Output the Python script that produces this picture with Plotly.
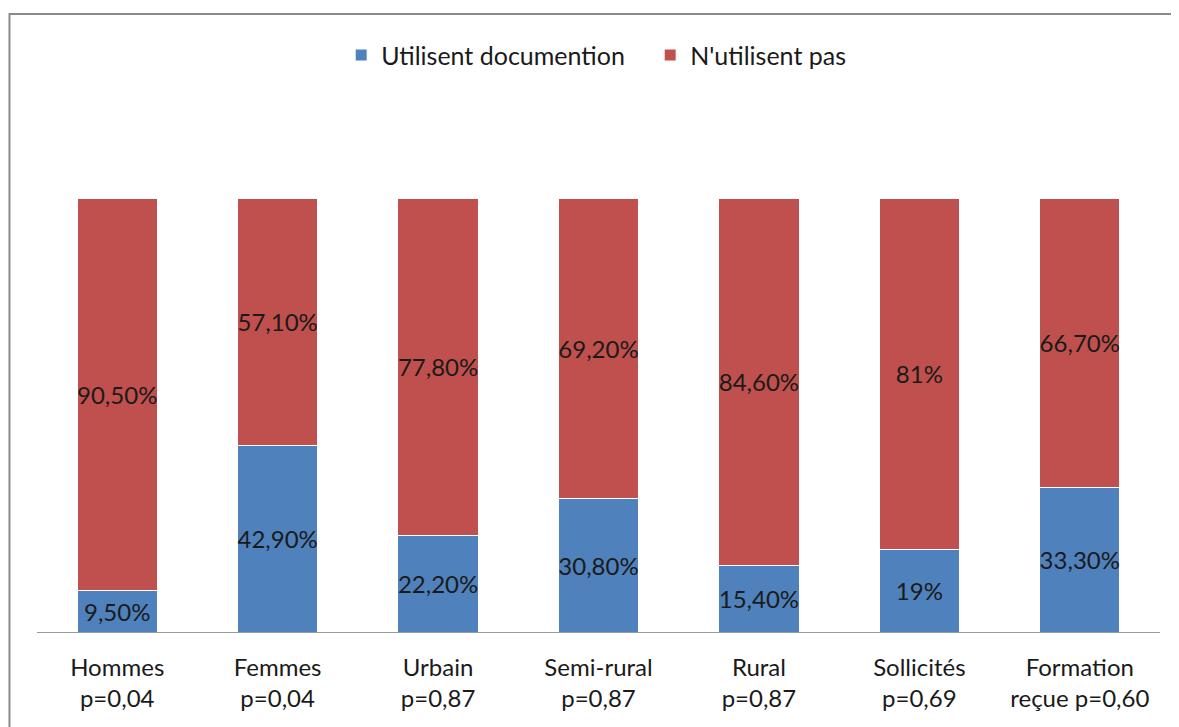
import plotly.graph_objects as go

# ── Data ────────────────────────────────────────────────────────────────
categories = [
    "Hommes<br>p=0,04",
    "Femmes<br>p=0,04",
    "Urbain<br>p=0,87",
    "Semi-rural<br>p=0,87",
    "Rural<br>p=0,87",
    "Sollicités<br>p=0,69",
    "Formation<br>reçue p=0,60",
]
utilisent = [9.5, 42.9, 22.2, 30.8, 15.4, 19.0, 33.3]
n_utilisent_pas = [90.5, 57.1, 77.8, 69.2, 84.6, 81.0, 66.7]
utilisent_labels = ["9,50%", "42,90%", "22,20%", "30,80%", "15,40%", "19%", "33,30%"]
n_utilisent_pas_labels = ["90,50%", "57,10%", "77,80%", "69,20%", "84,60%", "81%", "66,70%"]

_BLUE = "#4F81BD"
_RED = "#C0504D"
_FONT = "Lato, 'Open Sans', sans-serif"
_TXT = "#1a1a1a"

fig = go.Figure()
fig.add_trace(go.Bar(
    x=categories, y=utilisent, name="Utilisent documention",
    marker=dict(color=_BLUE, line=dict(color="white", width=1)),
    text=utilisent_labels, textposition="inside", insidetextanchor="middle",
    textangle=0, constraintext="none",
    textfont=dict(size=24, color=_TXT, family=_FONT),
))
fig.add_trace(go.Bar(
    x=categories, y=n_utilisent_pas, name="N'utilisent pas",
    marker=dict(color=_RED, line=dict(color="white", width=1)),
    text=n_utilisent_pas_labels, textposition="inside", insidetextanchor="middle",
    textangle=0, constraintext="none",
    textfont=dict(size=24, color=_TXT, family=_FONT),
))

# outer chart border (Excel-style frame, cut off at right and bottom)
fig.add_shape(
    type="rect", xref="paper", yref="paper",
    x0=-0.0245, x1=1.2, y0=-0.5, y1=1.424,
    line=dict(color="#8a8a8a", width=2), layer="below",
)

fig.update_layout(
    barmode="stack",
    bargap=0.5,
    width=1179, height=727,
    paper_bgcolor="white", plot_bgcolor="white",
    font=dict(family=_FONT, size=24, color=_TXT),
    margin=dict(l=29, r=27, t=190, b=103),
    legend=dict(
        orientation="h", x=0.546, xanchor="center",
        yref="container", y=0.935, yanchor="middle",
        font=dict(size=25), traceorder="normal",
        entrywidth=264, itemwidth=30,
    ),
    xaxis=dict(
        showline=True, linecolor="#9a9a9a", linewidth=1,
        ticks="", showgrid=False, tickfont=dict(size=24),
        ticklabelstandoff=14,
    ),
    yaxis=dict(visible=False, range=[0, 100], showgrid=False),
)

fig.write_html("out.html")
